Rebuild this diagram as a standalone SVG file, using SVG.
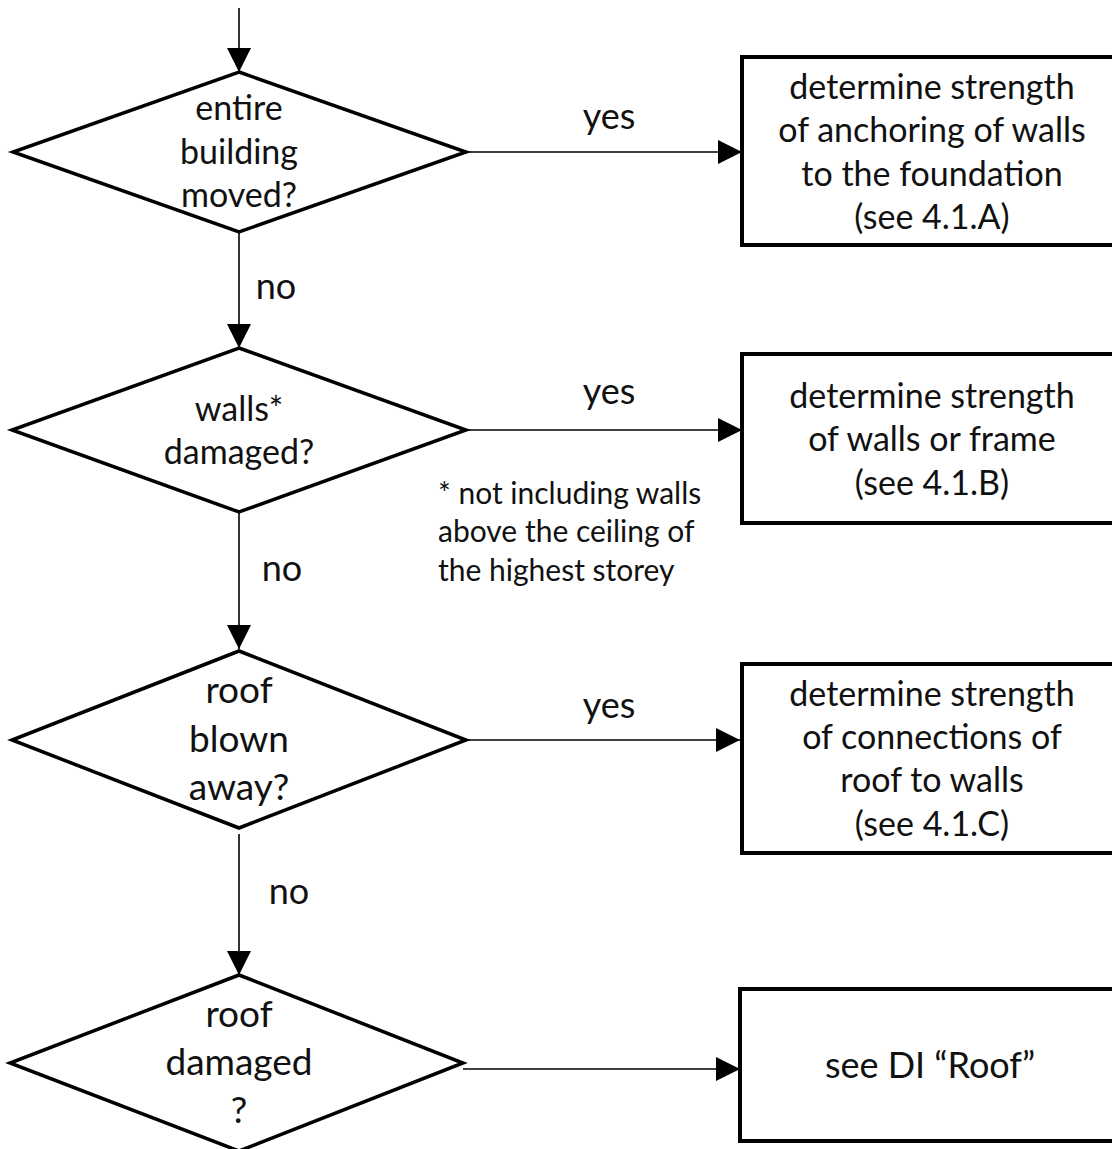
<svg xmlns="http://www.w3.org/2000/svg" width="1112" height="1149" viewBox="0 0 1112 1149">
<style>
.bg{fill:#fff}
.dia{fill:#fff;stroke:#000;stroke-width:3.5;stroke-linejoin:miter}
.box{fill:#fff;stroke:#000;stroke-width:4}
.con{fill:none;stroke:#000;stroke-width:1.6}
text{font-family:Lato,"Open Sans","Liberation Sans",sans-serif;fill:#111;text-anchor:middle}
.t{font-size:34px}
.tb{font-size:36px}
.tl{font-size:37px}
.lbl{font-size:36px}
.note{font-size:30px;text-anchor:start}
</style>
<defs>
<marker id="ah" markerUnits="userSpaceOnUse" markerWidth="24" markerHeight="24" viewBox="0 0 22 22" refX="22" refY="11" orient="auto">
<path d="M0,0 L22,11 L0,22 Z" fill="#000"/>
</marker>
</defs>
<rect class="bg" x="0" y="0" width="1112" height="1149"/>

<g id="connectors">
<line class="con" x1="239" y1="8" x2="239" y2="72" marker-end="url(#ah)"/>
<line class="con" x1="239" y1="232" x2="239" y2="348" marker-end="url(#ah)"/>
<line class="con" x1="239" y1="512" x2="239" y2="649" marker-end="url(#ah)"/>
<line class="con" x1="239" y1="834" x2="239" y2="975" marker-end="url(#ah)"/>
<line class="con" x1="466" y1="152" x2="742" y2="152" marker-end="url(#ah)"/>
<line class="con" x1="466" y1="430" x2="742" y2="430" marker-end="url(#ah)"/>
<line class="con" x1="466" y1="740" x2="740" y2="740" marker-end="url(#ah)"/>
<line class="con" x1="463" y1="1069" x2="740" y2="1069" marker-end="url(#ah)"/>
<text class="lbl" x="609" y="129">yes</text>
<text class="lbl" x="609" y="404">yes</text>
<text class="lbl" x="609" y="718">yes</text>
<text class="lbl" x="276" y="299">no</text>
<text class="lbl" x="282" y="581">no</text>
<text class="lbl" x="289" y="904">no</text>
</g>

<g id="d1">
<polygon class="dia" points="239,72 466,152 239,232 13,152"/>
<text class="t" x="239" y="120">entire</text>
<text class="t" x="239" y="164">building</text>
<text class="t" x="239" y="207">moved?</text>
</g>
<g id="b1">
<rect class="box" x="742" y="57" width="400" height="188"/>
<text class="t" x="932" y="99">determine strength</text>
<text class="t" x="932" y="142">of anchoring of walls</text>
<text class="t" x="932" y="186">to the foundation</text>
<text class="t" x="932" y="229">(see 4.1.A)</text>
</g>

<g id="d2">
<polygon class="dia" points="239,348 466,430 239,512 12,430"/>
<text class="t" x="239" y="421">walls*</text>
<text class="t" x="239" y="464">damaged?</text>
</g>
<g id="b2">
<rect class="box" x="742" y="354" width="400" height="169"/>
<text class="t" x="932" y="408">determine strength</text>
<text class="t" x="932" y="451">of walls or frame</text>
<text class="t" x="932" y="495">(see 4.1.B)</text>
</g>
<g id="note">
<text class="note" x="438" y="504">* not including walls</text>
<text class="note" x="438" y="542">above the ceiling of</text>
<text class="note" x="438" y="581">the highest storey</text>
</g>

<g id="d3">
<polygon class="dia" points="239,651 466,740 239,828 12,740"/>
<text class="tl" x="239" y="703">roof</text>
<text class="tl" x="239" y="752">blown</text>
<text class="tl" x="239" y="800">away?</text>
</g>
<g id="b3">
<rect class="box" x="742" y="664" width="400" height="189"/>
<text class="t" x="932" y="706">determine strength</text>
<text class="t" x="932" y="749">of connections of</text>
<text class="t" x="932" y="792">roof to walls</text>
<text class="t" x="932" y="836">(see 4.1.C)</text>
</g>

<g id="d4">
<polygon class="dia" points="239,975 463,1063 239,1151 10,1063"/>
<text class="tl" x="239" y="1027">roof</text>
<text class="tl" x="239" y="1075">damaged</text>
<text class="tl" x="239" y="1123">?</text>
</g>
<g id="b4">
<rect class="box" x="740" y="989" width="400" height="152"/>
<text class="tb" x="930" y="1078">see DI “Roof”</text>
</g>
</svg>
